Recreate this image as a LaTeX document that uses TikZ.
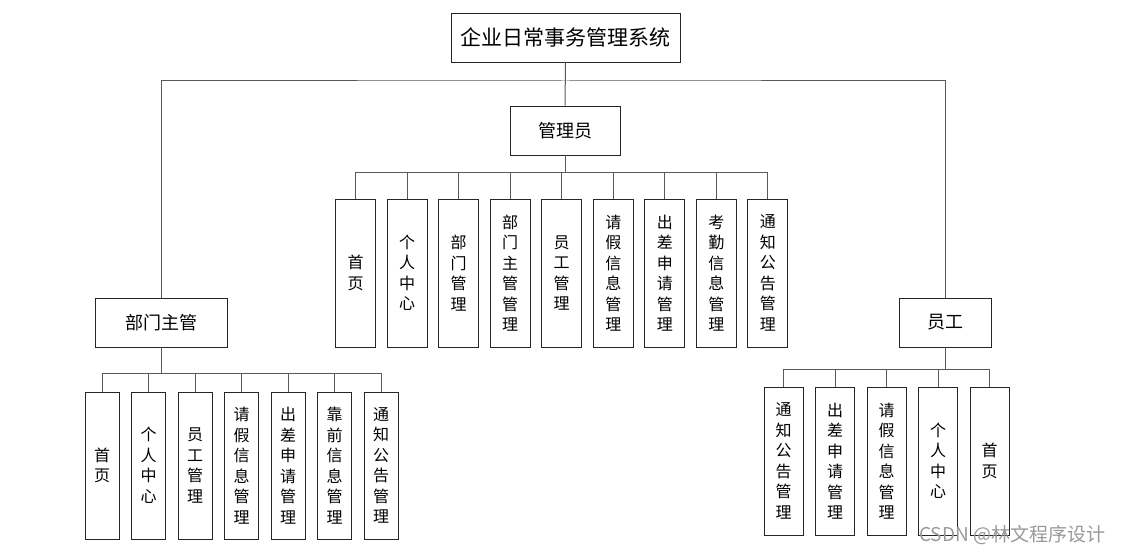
\documentclass[tikz,border=0pt]{standalone}
\usepackage{fontspec}
\newfontfamily\cjk{Noto Sans CJK SC}
\begin{document}
\begin{tikzpicture}[x=1pt,y=-1pt,
	box/.style={draw=black!85, line width=0.9pt, inner sep=0pt, font=\cjk\fontsize{18}{22}\selectfont},
	leaf/.style={box, align=center, minimum height=148pt, font=\cjk\fontsize{16}{20.5}\selectfont},
	link/.style={draw=black!65, line width=1pt}]
		\useasboundingbox (0,0) rectangle (1127,553);

		% top levels
		\node[box, minimum width=229pt, minimum height=49pt, font=\cjk\fontsize{21}{24}\selectfont] (sys) at (565.5,37.5) {企业日常事务管理系统};
		\node[box, minimum width=110pt, minimum height=49pt] (adm) at (565,130.5) {管理员};
		\node[box, minimum width=132pt, minimum height=49pt] (mgr) at (161,322.5) {部门主管};
		\node[box, minimum width=92pt, minimum height=49pt] (staff) at (945,322.5) {员工};

		\coordinate (sysbus) at (565.5,81);
		\coordinate (admbus) at (565,173);
		\coordinate (mgrbus) at (161,373);
		\coordinate (staffbus) at (945,369);

		\draw[link] (sys.south) -- (adm.north);
		\draw[link] (mgr.north) |- (sysbus) -| (staff.north);

		% administrator
		\foreach \t [count=\i from 0] in {{首\\页},{个\\人\\中\\心},{部\\门\\管\\理},{部\\门\\主\\管\\管\\理},{员\\工\\管\\理},{请\\假\\信\\息\\管\\理},{出\\差\\申\\请\\管\\理},{考\\勤\\信\\息\\管\\理},{通\\知\\公\\告\\管\\理}}{
			\node[leaf, minimum width=40pt] (a\i) at (355.5+51.55*\i,273) {\t};
			\draw[link] (a\i.north) |- (admbus);
		}
		\draw[link] (adm.south) -- (admbus);

		% department manager
		\foreach \t [count=\i from 0] in {{首\\页},{个\\人\\中\\心},{员\\工\\管\\理},{请\\假\\信\\息\\管\\理},{出\\差\\申\\请\\管\\理},{靠\\前\\信\\息\\管\\理},{通\\知\\公\\告\\管\\理}}{
			\node[leaf, minimum width=34pt, minimum height=147pt] (m\i) at (102+46.5*\i,465.5) {\t};
			\draw[link] (m\i.north) |- (mgrbus);
		}
		\draw[link] (mgr.south) -- (mgrbus);

		% staff
		\foreach \t [count=\i from 0] in {{通\\知\\公\\告\\管\\理},{出\\差\\申\\请\\管\\理},{请\\假\\信\\息\\管\\理},{个\\人\\中\\心},{首\\页}}{
			\node[leaf, minimum width=39pt] (s\i) at (783.5+51.5*\i,461) {\t};
			\draw[link] (s\i.north) |- (staffbus);
		}
		\draw[link] (staff.south) -- (staffbus);

		\node[anchor=west, text=black!40, inner sep=0pt, font=\cjk\fontsize{19}{21}\selectfont] (mark) at (919,535) {CSDN @林文程序设计};
	\end{tikzpicture}
\end{document}
